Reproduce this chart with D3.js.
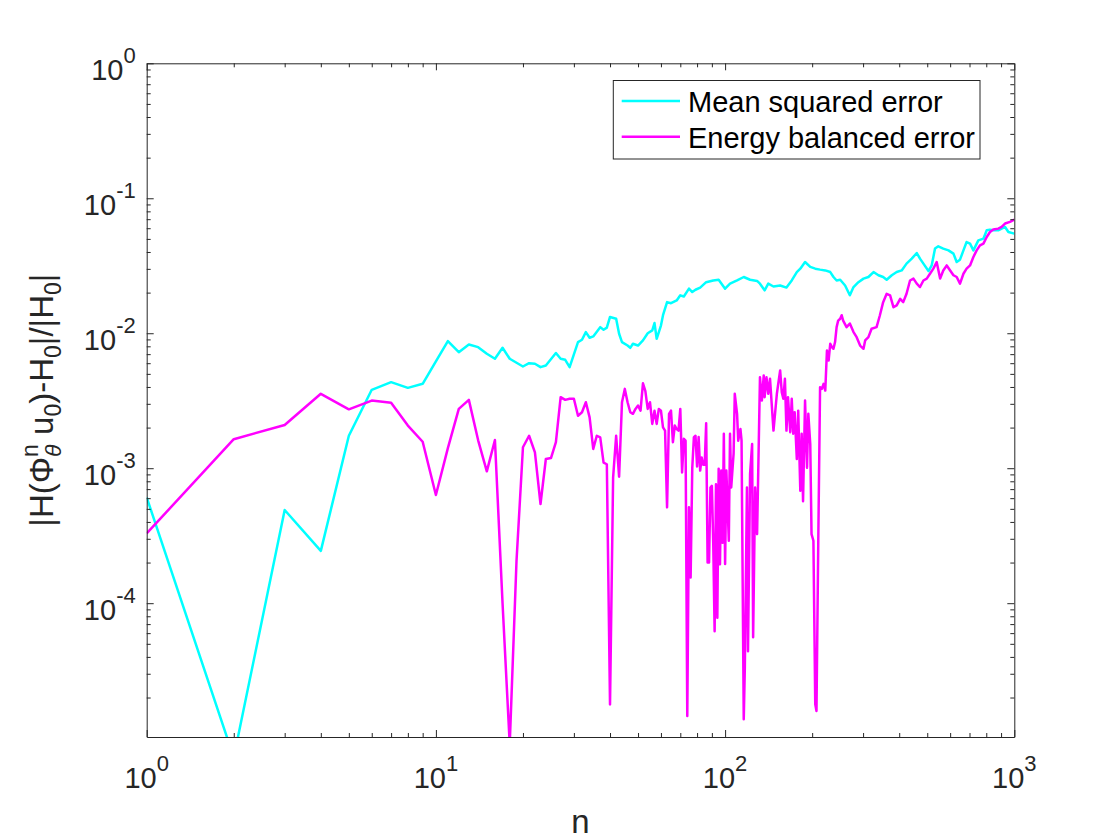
<!DOCTYPE html>
<html>
<head>
<meta charset="utf-8">
<script src="https://cdn.jsdelivr.net/npm/d3@7"></script>
<style>
  body { margin: 0; background: #fff; }
  text { font-family: "Liberation Sans", Arial, Helvetica, sans-serif; }
</style>
</head>
<body>
<div id="chart-area"></div>
<script>
// Data (step n, relative energy error)
const mseSteps = [1,2,3,4,5,6,7,8,9,10,11,12,13,14,15,16,17,18,20,21,22,23,24,26,27,28,29,31,32,33,34,35,37,38,39,40,42,43,44,46,47,48,50,52,54,56,57,58,60,61,63,65,68,70,72,75,77,79,82,86,91,95,100,104,110,116,122,129,132,137,141,147,155,163,170,177,182,189,197,205,213,222,231,237,243,250,260,270,278,289,301,313,326,339,352,362,377,392,408,424,442,460,472,485,505,518,532,546,568,592,616,632,649,667,684,703,722,751,782,803,824,846,880,904,929,954,1000];
const mseErr = [6.08e-4,7.2e-6,4.9e-4,2.44e-4,1.74e-3,3.81e-3,4.34e-3,3.94e-3,4.22e-3,6.2e-3,8.74e-3,7.24e-3,8.26e-3,7.89e-3,7.05e-3,6.47e-3,7.8e-3,6.47e-3,5.67e-3,6.0e-3,5.94e-3,5.61e-3,5.77e-3,7.13e-3,6.47e-3,6.36e-3,5.61e-3,8.6e-3,8.95e-3,1.02e-2,9.26e-3,9.47e-3,1.11e-2,1.06e-2,1.10e-2,1.32e-2,1.28e-2,9.91e-3,8.6e-3,8.11e-3,7.8e-3,8.36e-3,8.11e-3,8.85e-3,1.0e-2,1.05e-2,1.19e-2,9.1e-3,1.14e-2,1.36e-2,1.70e-2,1.67e-2,1.75e-2,1.91e-2,1.87e-2,2.14e-2,2.02e-2,2.10e-2,2.18e-2,2.39e-2,2.46e-2,2.49e-2,2.14e-2,2.33e-2,2.46e-2,2.61e-2,2.49e-2,2.44e-2,2.33e-2,2.08e-2,2.33e-2,2.22e-2,2.26e-2,2.18e-2,2.46e-2,2.84e-2,3.01e-2,3.37e-2,3.10e-2,3.01e-2,2.96e-2,2.92e-2,2.84e-2,2.61e-2,2.46e-2,2.49e-2,2.26e-2,1.91e-2,2.2e-2,2.39e-2,2.54e-2,2.61e-2,2.84e-2,2.69e-2,2.61e-2,2.49e-2,2.69e-2,2.84e-2,2.92e-2,3.28e-2,3.57e-2,3.93e-2,3.57e-2,3.28e-2,2.89e-2,3.18e-2,4.24e-2,4.41e-2,4.24e-2,4.11e-2,3.89e-2,3.37e-2,3.51e-2,4.11e-2,4.74e-2,4.61e-2,4.11e-2,4.88e-2,5.02e-2,5.79e-2,5.86e-2,5.79e-2,5.79e-2,5.96e-2,6.13e-2,5.62e-2,5.47e-2];

const ebeSteps = [1,2,3,4,5,6,7,8,9,10,11,12,13,14,15,16,17,18,19,20,21,22,23,24,25,26,27,28,29,30,31,32,33,34,35,36,37,38,39,40,41,42,43,44,45,46,47,48,49,50,51,52,53,54,55,56,57,58,59,60,61,62,63,64,65,66,67,68,69,70,71,72,73,74,75,76,77,78,79,80,81,82,83,84,85,86,87,88,89,90,91,92,93,94,95,96,97,98,99,100,101,103,104,105,107,108,110,111,113,114,116,117,119,120,122,124,125,127,129,130,132,134,136,137,139,141,143,147,151,155,157,159,161,163,165,168,170,172,174,177,179,182,184,186,189,192,194,197,199,202,205,207,210,213,216,219,222,225,228,231,234,237,240,243,246,250,253,256,263,270,278,285,293,301,305,313,321,334,343,352,362,372,382,392,403,413,424,436,448,460,472,485,498,511,525,539,554,568,584,600,616,632,649,667,684,703,722,741,761,782,803,824,846,880,904,929,966,1000];
const ebeErr = [3.29e-4,1.64e-3,2.09e-3,3.56e-3,2.73e-3,3.17e-3,3.06e-3,2.07e-3,1.57e-3,6.33e-4,1.41e-3,2.75e-3,3.21e-3,1.61e-3,9.48e-4,1.62e-3,1.0e-4,9e-6,2.06e-4,1.43e-3,1.74e-3,1.31e-3,5.43e-4,1.17e-3,1.19e-3,1.56e-3,3.36e-3,3.21e-3,3.27e-3,3.27e-3,2.45e-3,2.60e-3,3.08e-3,2.38e-3,1.39e-3,1.74e-3,1.69e-3,1.10e-3,1.07e-3,1.78e-5,8.55e-4,1.74e-3,8.65e-4,3.08e-3,3.87e-3,3.08e-3,2.60e-3,2.53e-3,2.75e-3,2.91e-3,2.67e-3,4.26e-3,3.72e-3,2.75e-3,3.08e-3,2.13e-3,2.67e-3,2.13e-3,2.75e-3,2.67e-3,2.01e-3,1.9e-3,5.13e-4,2.53e-3,2.67e-3,1.56e-3,2.07e-3,1.95e-3,1.9e-3,2.75e-3,9.3e-4,1.65e-3,1.6e-3,1.46e-5,5.13e-4,1.55e-4,1.01e-3,1.7e-3,1.74e-3,1.03e-3,1.7e-3,9.6e-4,1.2e-3,1.06e-3,1.06e-3,2.15e-3,2.0e-4,2.0e-4,7.2e-4,7.4e-4,2.74e-4,6.2e-5,7.6e-4,7.8e-5,9.9e-4,1.94e-4,9.6e-4,2.8e-4,1.8e-3,1.95e-4,9.6e-4,2.9e-4,1.8e-3,7.2e-4,1.28e-3,3.56e-3,2.53e-3,1.6e-3,1.95e-3,1.6e-3,1.38e-5,3.3e-5,7.2e-4,4.4e-5,9.1e-4,1.51e-3,5.6e-5,7.2e-4,3.25e-4,7.9e-4,4.72e-3,3.17e-3,4.86e-3,3.36e-3,4.72e-3,3.56e-3,4.6e-3,1.9e-3,3.56e-3,5.3e-3,3.66e-3,3.27e-3,4.6e-3,1.9e-3,3.36e-3,1.85e-3,3.27e-3,1.8e-3,2.6e-3,1.17e-3,2.67e-3,6.8e-4,1.8e-3,5.7e-4,3.17e-3,1.01e-3,2.53e-3,1.51e-3,3.25e-4,2.9e-4,1.78e-5,1.59e-5,2.9e-4,3.98e-3,3.87e-3,4.22e-3,3.76e-3,7.45e-3,6.28e-3,8.36e-3,7.89e-3,7.67e-3,8.6e-3,1.11e-2,1.24e-2,1.28e-2,1.36e-2,1.24e-2,1.11e-2,1.18e-2,1.02e-2,9.35e-3,8.11e-3,7.67e-3,8.85e-3,9.35e-3,1.08e-2,1.11e-2,1.36e-2,1.70e-2,1.96e-2,1.91e-2,1.56e-2,1.61e-2,1.80e-2,1.70e-2,1.96e-2,2.46e-2,2.54e-2,2.33e-2,2.2e-2,2.46e-2,2.54e-2,2.76e-2,3.01e-2,3.37e-2,2.54e-2,2.92e-2,3.18e-2,2.92e-2,2.69e-2,2.61e-2,2.33e-2,2.76e-2,3.01e-2,3.18e-2,3.67e-2,4.11e-2,4.48e-2,4.61e-2,5.17e-2,5.62e-2,5.86e-2,5.96e-2,6.13e-2,6.5e-2,6.68e-2,6.95e-2];

// Tick labels (powers of ten) and legend
const xTickExp = [0, 1, 2, 3];
const yTickExp = [0, -1, -2, -3, -4];
const seriesNames = ["Mean squared error", "Energy balanced error"];
const seriesColors = ["#00ffff", "#ff00ff"];

// Layout
const W = 1120, H = 840;
const plot = { left: 146.7, right: 1014.3, top: 63.3, bottom: 737 };
const axisColor = "#262626";
const lineWidth = 2.5;

const svg = d3.select("#chart-area").append("svg")
    .attr("width", W)
    .attr("height", H);

const xScale = d3.scaleLog().domain([1, 1000]).range([plot.left, plot.right]);
const yScale = d3.scaleLog().domain([1.02e-5, 1]).range([plot.bottom, plot.top]);

// minor tick positions 2..9 x 10^k
const xMinor = [], yMinor = [];
[0, 1, 2].forEach(k => { for (let m = 2; m <= 9; m++) xMinor.push(m * Math.pow(10, k)); });
[-5, -4, -3, -2, -1].forEach(k => { for (let m = 2; m <= 9; m++) yMinor.push(m * Math.pow(10, k)); });
const xMajor = xTickExp.map(e => Math.pow(10, e));
const yMajor = yTickExp.map(e => Math.pow(10, e));

// Lines (clipped to the axes box)
svg.append("clipPath").attr("id", "plot-clip")
  .append("rect")
    .attr("x", plot.left).attr("y", plot.top)
    .attr("width", plot.right - plot.left)
    .attr("height", plot.bottom - plot.top);

const line = d3.line()
    .x(d => xScale(d[0]))
    .y(d => yScale(d[1]));

const series = [
  d3.zip(mseSteps, mseErr),
  d3.zip(ebeSteps, ebeErr)
];

const lines = svg.append("g").attr("clip-path", "url(#plot-clip)");
series.forEach((s, i) => {
  lines.append("path")
    .datum(s)
    .attr("d", line)
    .attr("fill", "none")
    .attr("stroke", seriesColors[i])
    .attr("stroke-width", lineWidth)
    .attr("stroke-linejoin", "round");
});

// Axes: ticks point inward on all four sides
function drawAxis(axisFn, scale, transform, major, minor) {
  const g = svg.append("g").attr("transform", transform).attr("color", axisColor);
  g.call(axisFn(scale).tickValues(major).tickSize(-7).tickSizeOuter(0).tickFormat(""));
  const gm = svg.append("g").attr("transform", transform).attr("color", axisColor);
  gm.call(axisFn(scale).tickValues(minor).tickSize(-4).tickSizeOuter(0).tickFormat(""));
  gm.select(".domain").remove();
}
drawAxis(d3.axisBottom, xScale, `translate(0,${plot.bottom})`, xMajor, xMinor);
drawAxis(d3.axisTop, xScale, `translate(0,${plot.top})`, xMajor, xMinor);
drawAxis(d3.axisLeft, yScale, `translate(${plot.left},0)`, yMajor, yMinor);
drawAxis(d3.axisRight, yScale, `translate(${plot.right},0)`, yMajor, yMinor);

// Tick labels as 10^k
const tickFont = 29, supFont = 22, supRise = 16.7;

function powerLabel(sel, e) {
  sel.append("tspan").text("10");
  sel.append("tspan")
    .attr("font-size", supFont)
    .attr("dy", -supRise)
    .text(e);
}

xTickExp.forEach(e => {
  const t = svg.append("text")
    .attr("x", xScale(Math.pow(10, e)))
    .attr("y", plot.bottom + 51)
    .attr("font-size", tickFont)
    .attr("fill", axisColor)
    .attr("text-anchor", "middle");
  powerLabel(t, e);
});

yTickExp.forEach(e => {
  const t = svg.append("text")
    .attr("x", plot.left - 11)
    .attr("y", yScale(Math.pow(10, e)) + supRise)
    .attr("font-size", tickFont)
    .attr("fill", axisColor)
    .attr("text-anchor", "end");
  powerLabel(t, e);
});

// X label
svg.append("text")
    .attr("x", (plot.left + plot.right) / 2)
    .attr("y", 833)
    .attr("font-size", 33)
    .attr("fill", axisColor)
    .attr("text-anchor", "middle")
    .text("n");

// Y label |H(Φ_θ^n u_0)-H_0|/|H_0|, laid out piece by piece then rotated
const yLabel = svg.append("g")
    .attr("transform", `translate(53, ${(plot.top + plot.bottom) / 2}) rotate(-90)`);
const big = 33, small = 23;
const pieces = [
  { t: "|H(\u03A6", s: big, dy: 0 },
  { t: "\u03B8", s: small, dy: 8, italic: true, stackNext: true },
  { t: "n", s: small, dy: -15 },
  { t: " u", s: big, dy: 0 },
  { t: "0", s: small, dy: 8 },
  { t: ")-H", s: big, dy: 0 },
  { t: "0", s: small, dy: 8 },
  { t: "|/|H", s: big, dy: 0 },
  { t: "0", s: small, dy: 8 },
  { t: "|", s: big, dy: 0 }
];
let cursor = 0, stackStart = null, stackWidth = 0;
const nodes = [];
pieces.forEach(p => {
  const x0 = stackStart !== null ? stackStart : cursor;
  const t = yLabel.append("text")
      .attr("x", x0)
      .attr("y", p.dy)
      .attr("font-size", p.s)
      .attr("fill", axisColor)
      .attr("font-style", p.italic ? "italic" : null)
      .style("white-space", "pre")
      .text(p.t);
  nodes.push(t);
  const w = t.node().getComputedTextLength();
  if (p.stackNext) {
    stackStart = x0;
    stackWidth = w;
  } else if (stackStart !== null) {
    cursor = stackStart + Math.max(w, stackWidth);
    stackStart = null;
  } else {
    cursor = x0 + w;
  }
});
nodes.forEach(t => t.attr("x", +t.attr("x") - cursor / 2));

// Legend
const legend = svg.append("g");
legend.append("rect")
    .attr("x", 613.3).attr("y", 80.5)
    .attr("width", 366.7).attr("height", 78.5)
    .attr("fill", "#fff")
    .attr("stroke", axisColor)
    .attr("stroke-width", 1);

seriesNames.forEach((name, i) => {
  const yy = 101 + i * 35.8;
  legend.append("line")
    .attr("x1", 621.7).attr("x2", 680)
    .attr("y1", yy).attr("y2", yy)
    .attr("stroke", seriesColors[i])
    .attr("stroke-width", lineWidth);
  legend.append("text")
    .attr("x", 688)
    .attr("y", yy + 11)
    .attr("font-size", 29)
    .attr("fill", "#000")
    .text(name);
});
</script>
</body>
</html>
